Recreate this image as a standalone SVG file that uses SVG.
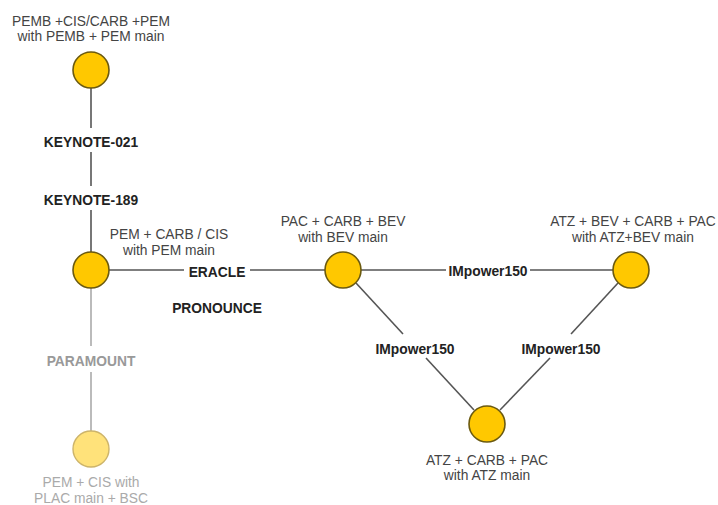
<svg xmlns="http://www.w3.org/2000/svg" width="718" height="505" viewBox="0 0 718 505">
<style>
.n{fill:#FFC800;stroke:#6B5A10;stroke-width:1.6}
.nl{fill:#FFE27A;stroke:#CDB46A;stroke-width:1.4}
.t{font-family:"Liberation Sans",Arial,sans-serif;font-size:13.8px;fill:#444;text-anchor:middle}
.tl{font-family:"Liberation Sans",Arial,sans-serif;font-size:13.8px;fill:#aaa;text-anchor:middle}
.b{font-family:"Liberation Sans",Arial,sans-serif;font-size:13.8px;font-weight:bold;fill:#222;text-anchor:middle}
.bl{font-family:"Liberation Sans",Arial,sans-serif;font-size:13.8px;font-weight:bold;fill:#999;text-anchor:middle}
.e{stroke:#555;stroke-width:1.6;fill:none}
.el{stroke:#aaa;stroke-width:1.6;fill:none}
</style>
<rect width="718" height="505" fill="#fff"/>
<g id="connectors">
<line class="e" x1="91" y1="88" x2="91" y2="128"/>
<line class="e" x1="91" y1="152" x2="91" y2="186"/>
<line class="e" x1="91" y1="210" x2="91" y2="252"/>
<line class="el" x1="91" y1="288" x2="91" y2="346"/>
<line class="el" x1="91" y1="372" x2="91" y2="431"/>
<line class="e" x1="109" y1="270" x2="184" y2="270"/>
<line class="e" x1="250" y1="270" x2="325" y2="270"/>
<line class="e" x1="361" y1="270" x2="446" y2="270"/>
<line class="e" x1="530" y1="270" x2="614" y2="270"/>
<line class="e" x1="356" y1="283" x2="403" y2="334"/>
<line class="e" x1="426" y1="358" x2="474" y2="410"/>
<line class="e" x1="618" y1="283" x2="571" y2="334"/>
<line class="e" x1="550" y1="358" x2="500" y2="410"/>
</g>
<g id="node-pemb">
<circle class="n" cx="91" cy="70" r="18"/>
<text class="t" x="91" y="26">PEMB +CIS/CARB +PEM</text>
<text class="t" x="91" y="41">with PEMB + PEM main</text>
</g>
<g id="node-pem">
<circle class="n" cx="91" cy="270" r="18"/>
<text class="t" x="169" y="239">PEM + CARB / CIS</text>
<text class="t" x="169" y="255">with PEM main</text>
</g>
<g id="node-plac">
<circle class="nl" cx="91" cy="449" r="18"/>
<text class="tl" x="91" y="487">PEM + CIS with</text>
<text class="tl" x="91" y="503">PLAC main + BSC</text>
</g>
<g id="node-pac">
<circle class="n" cx="343" cy="270" r="18"/>
<text class="t" x="343" y="226">PAC + CARB + BEV</text>
<text class="t" x="343" y="242">with BEV main</text>
</g>
<g id="node-atzbev">
<circle class="n" cx="631" cy="270" r="18"/>
<text class="t" x="633" y="226">ATZ + BEV + CARB + PAC</text>
<text class="t" x="633" y="242">with ATZ+BEV main</text>
</g>
<g id="node-atz">
<circle class="n" cx="487" cy="424" r="18"/>
<text class="t" x="487" y="465">ATZ + CARB + PAC</text>
<text class="t" x="487" y="480">with ATZ main</text>
</g>
<g id="labels">
<text class="b" x="91" y="147">KEYNOTE-021</text>
<text class="b" x="91" y="205">KEYNOTE-189</text>
<text class="b" x="217" y="277">ERACLE</text>
<text class="b" x="217" y="313">PRONOUNCE</text>
<text class="bl" x="91" y="366">PARAMOUNT</text>
<text class="b" x="488" y="276">IMpower150</text>
<text class="b" x="415" y="354">IMpower150</text>
<text class="b" x="561" y="354">IMpower150</text>
</g>
</svg>
